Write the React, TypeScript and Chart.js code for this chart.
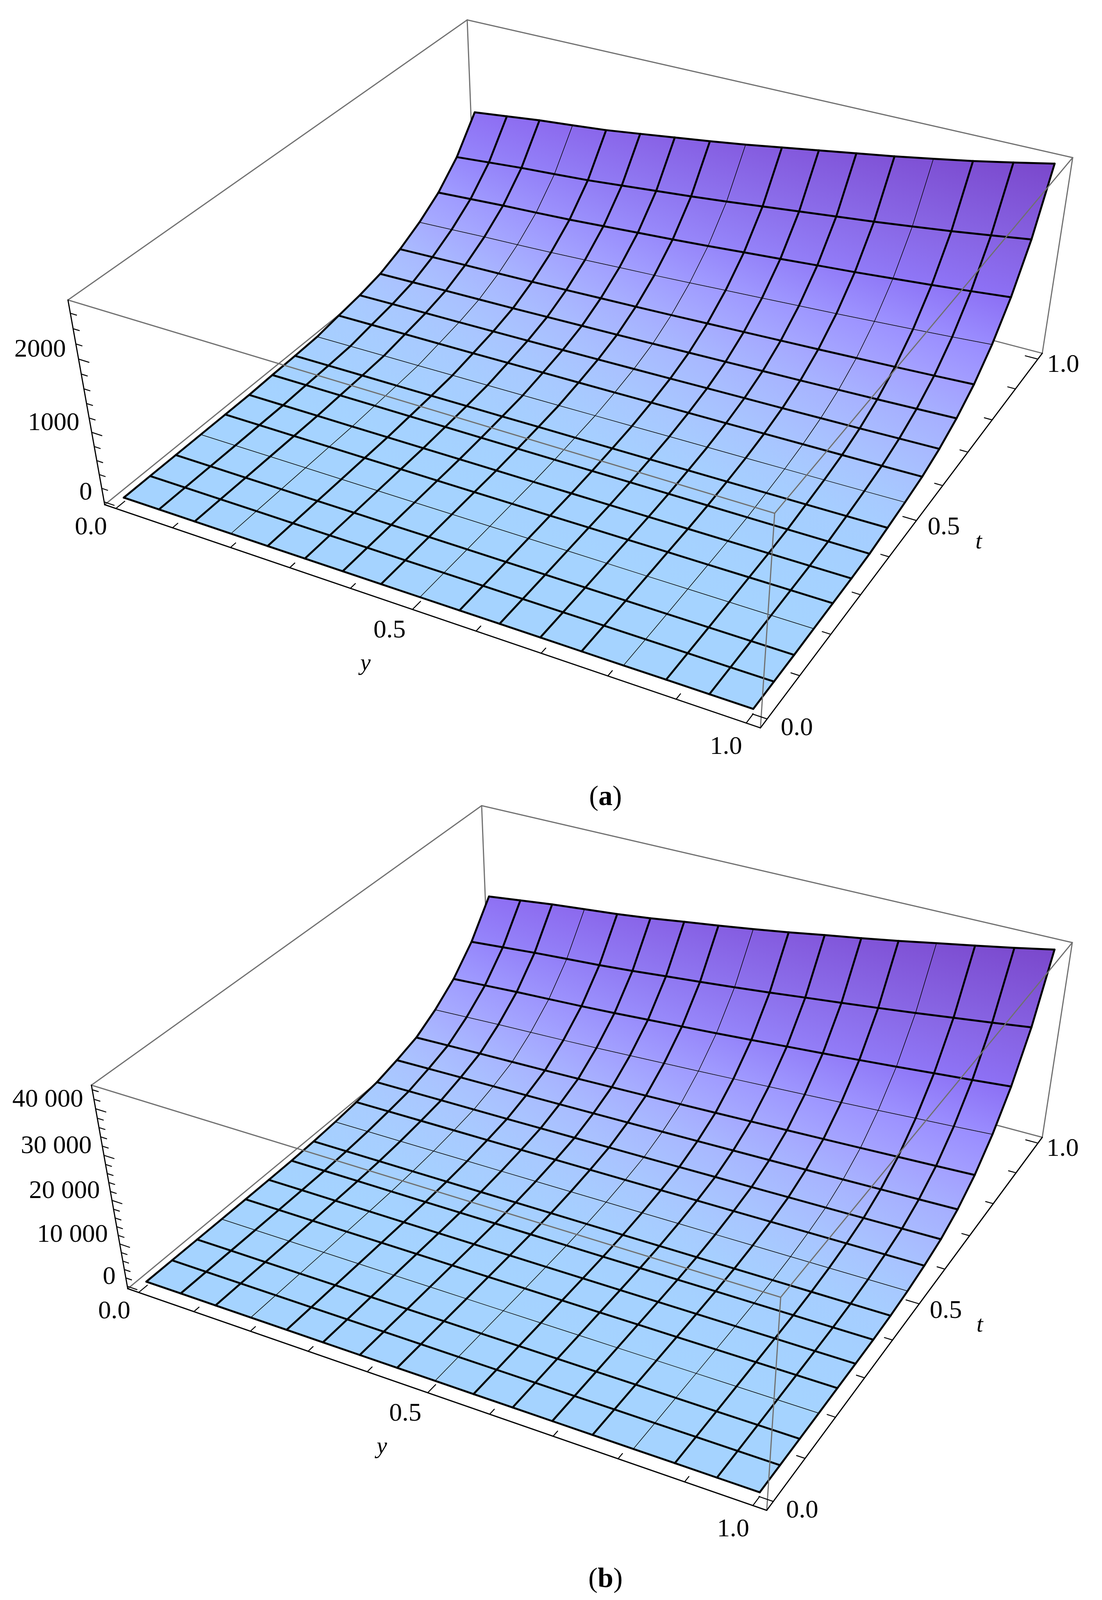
import { useEffect, useRef } from 'react'
import { Chart, registerables } from 'chart.js'

Chart.register(...registerables)

// mesh positions, same along y and along t
const meshSteps = [0, 0.0625, 0.125, 0.1875, 0.25, 0.3125, 0.375, 0.4375, 0.5, 0.5625, 0.625, 0.6875, 0.75, 0.8125, 0.875, 0.9375, 1]
const thinMeshLines = [3, 8, 13]

const yTicks = [0, 0.1, 0.2, 0.3, 0.4, 0.5, 0.6, 0.7, 0.8, 0.9, 1]
const tTicks = [0, 0.1, 0.2, 0.3, 0.4, 0.5, 0.6, 0.7, 0.8, 0.9, 1]
const majorTicks = [0, 0.5, 1]
const unitLabels = ['0.0', '0.5', '1.0']

// surface height, one row per t mesh line, one value per y mesh line
const surfaceA = [
	[17, 18, 19, 19, 20, 21, 22, 23, 24, 25, 27, 28, 29, 30, 32, 33, 35],
	[19, 20, 21, 22, 22, 23, 24, 25, 27, 28, 29, 30, 32, 33, 35, 36, 38],
	[20, 21, 22, 23, 24, 25, 26, 28, 29, 30, 32, 33, 35, 36, 38, 40, 42],
	[21, 22, 24, 25, 26, 28, 29, 31, 33, 35, 37, 39, 40, 43, 45, 47, 50],
	[23, 25, 26, 28, 29, 31, 33, 35, 37, 39, 42, 44, 47, 49, 52, 55, 58],
	[25, 27, 29, 30, 32, 34, 37, 39, 41, 44, 47, 50, 53, 56, 59, 62, 66],
	[39, 41, 43, 45, 47, 49, 51, 54, 56, 59, 62, 65, 68, 71, 74, 78, 82],
	[49, 53, 56, 59, 62, 66, 70, 75, 79, 84, 89, 94, 99, 105, 111, 117, 124],
	[64, 69, 74, 78, 83, 88, 94, 100, 107, 114, 121, 128, 135, 143, 151, 160, 170],
	[117, 122, 127, 131, 136, 142, 148, 154, 160, 168, 175, 182, 190, 198, 206, 215, 225],
	[164, 172, 179, 185, 192, 200, 209, 218, 228, 238, 249, 260, 270, 282, 294, 308, 322],
	[235, 246, 257, 266, 275, 288, 301, 314, 328, 344, 359, 375, 390, 408, 425, 445, 466],
	[362, 377, 392, 403, 416, 432, 450, 466, 485, 506, 526, 547, 568, 591, 614, 640, 668],
	[530, 551, 572, 588, 606, 629, 654, 677, 704, 733, 762, 791, 820, 853, 886, 923, 962],
	[747, 777, 807, 830, 856, 890, 925, 959, 997, 1039, 1080, 1123, 1164, 1211, 1259, 1312, 1368],
	[1059, 1101, 1143, 1175, 1210, 1258, 1306, 1354, 1407, 1466, 1524, 1582, 1640, 1705, 1772, 1846, 1924],
	[1515, 1573, 1632, 1677, 1726, 1792, 1860, 1927, 2000, 2082, 2163, 2245, 2326, 2416, 2509, 2613, 2722]
]

const surfaceB = [
	[350, 355, 360, 364, 368, 373, 379, 385, 391, 397, 404, 411, 418, 426, 434, 442, 450],
	[340, 347, 354, 360, 365, 372, 380, 388, 397, 406, 416, 425, 435, 446, 457, 468, 480],
	[330, 339, 348, 355, 362, 371, 382, 392, 403, 415, 427, 439, 452, 466, 480, 495, 510],
	[320, 331, 342, 351, 360, 371, 383, 396, 409, 423, 439, 454, 470, 486, 504, 521, 540],
	[320, 334, 347, 358, 369, 382, 398, 413, 429, 447, 466, 484, 504, 524, 545, 567, 590],
	[340, 356, 371, 383, 396, 411, 429, 447, 466, 486, 507, 528, 551, 574, 599, 624, 650],
	[400, 418, 436, 450, 465, 483, 504, 524, 546, 569, 594, 619, 645, 672, 701, 729, 760],
	[620, 641, 661, 677, 694, 714, 738, 761, 786, 813, 841, 869, 899, 930, 962, 995, 1030],
	[970, 1001, 1031, 1055, 1080, 1110, 1146, 1180, 1217, 1257, 1299, 1341, 1385, 1431, 1479, 1528, 1580],
	[1510, 1557, 1604, 1642, 1679, 1726, 1781, 1834, 1891, 1952, 2018, 2082, 2149, 2220, 2295, 2370, 2450],
	[2180, 2256, 2332, 2393, 2454, 2530, 2618, 2704, 2796, 2894, 3001, 3104, 3214, 3328, 3449, 3571, 3700],
	[3500, 3621, 3742, 3839, 3936, 4057, 4197, 4335, 4480, 4637, 4807, 4971, 5146, 5327, 5521, 5714, 5920],
	[5080, 5293, 5505, 5675, 5845, 6058, 6304, 6546, 6801, 7078, 7375, 7664, 7970, 8289, 8629, 8969, 9330],
	[8040, 8355, 8670, 8922, 9174, 9489, 9854, 10214, 10592, 11001, 11442, 11870, 12324, 12797, 13301, 13805, 14340],
	[11880, 12342, 12803, 13172, 13541, 14003, 14538, 15064, 15618, 16218, 16864, 17492, 18156, 18849, 19587, 20325, 21110],
	[17360, 18018, 18675, 19201, 19727, 20385, 21147, 21897, 22686, 23541, 24461, 25355, 26302, 27288, 28340, 29392, 30510],
	[24930, 25880, 26830, 27600, 28360, 29300, 30430, 31500, 32640, 33870, 35210, 36500, 37870, 39350, 40810, 42340, 43960]
]

const zTicksA = [0, 200, 400, 600, 800, 1000, 1200, 1400, 1600, 1800, 2000, 2200, 2400, 2600]
const zMajorA = [0, 1000, 2000]
const zLabelsA = ['0', '1000', '2000']

const zTicksB = [0, 2000, 4000, 6000, 8000, 10000, 12000, 14000, 16000, 18000, 20000, 22000, 24000, 26000, 28000, 30000, 32000, 34000, 36000, 38000, 40000, 42000, 44000]
const zMajorB = [0, 10000, 20000, 30000, 40000]
const zLabelsB = ['0', '10 000', '20 000', '30 000', '40 000']

// surface colour at each t mesh line, on the y=0 side and the y=1 side
const shadeLeft = ['#a5d3ff', '#a5d3ff', '#a5d3ff', '#a5d3ff', '#a5d3ff', '#a5d3ff', '#a5d2ff', '#a6d0ff', '#a7ceff', '#a8ccff', '#a9c8ff', '#aac3ff', '#a9baff', '#a6abff', '#a09cff', '#9686fc', '#8f70f4']
const shadeRight = ['#a5d3ff', '#a5d3ff', '#a5d3ff', '#a5d3ff', '#a5d2ff', '#a5d1ff', '#a5cfff', '#a6ceff', '#a7c9ff', '#a8c2ff', '#a8b8ff', '#a6aeff', '#a39eff', '#9a8cff', '#8c70f5', '#8560e0', '#7a48cc']

// camera of each panel: homogeneous [const, y, t, z] rows for x, y and w
type Camera = number[][]
const cameraA: Camera = [
	[288.1, 1562.8, 1294.9, -114.1],
	[1388.9, 382.8, -705.4, -620.9],
	[1.075, -0.12417, 0.22822, -0.075]
]
const cameraB: Camera = [
	[351.9, 1516.8, 1280.3, -117.9],
	[1397.7, 379.3, -701.2, -619.7],
	[1.076, -0.12393, 0.22818, -0.076]
]

const GREY = '#707070'
const INK = '#000000'
const FONT = '"Liberation Serif", serif'

// Mathematica pads the plot range by 2% on each side
const pad = (v: number) => (v + 0.02) / 1.04

const project = (cam: Camera, by: number, bt: number, bz: number) => {
	const row = (r: number[]) => r[0] + r[1] * by + r[2] * bt + r[3] * bz
	const w = row(cam[2])
	return { x: row(cam[0]) / w, y: row(cam[1]) / w }
}

const hexRgb = (hex: string) => [1, 3, 5].map((i) => parseInt(hex.slice(i, i + 2), 16))

const mixShade = (row: number, f: number) => {
	const a = hexRgb(shadeLeft[row])
	const b = hexRgb(shadeRight[row])
	return `rgb(${a.map((v, i) => Math.round(v + (b[i] - v) * f)).join(',')})`
}

const lineSet = (data: { x: number; y: number }[], color: string, width: number) => ({
	data,
	showLine: true,
	fill: false,
	borderColor: color,
	borderWidth: width,
	borderCapStyle: 'round' as const,
	borderJoinStyle: 'round' as const,
	pointRadius: 0,
	tension: 0
})

type Corner = [number, number, number]
const backEdges: Corner[][] = [
	[[0, 0, 0], [0, 1, 0]],
	[[0, 1, 0], [1, 1, 0]],
	[[0, 1, 0], [0, 1, 1]],
	[[1, 1, 0], [1, 1, 1]],
	[[0, 0, 1], [0, 1, 1]],
	[[0, 1, 1], [1, 1, 1]]
]
const frontEdges: Corner[][] = [
	[[0, 0, 1], [1, 0, 1]],
	[[1, 0, 1], [1, 1, 1]],
	[[1, 0, 0], [1, 0, 1]]
]
const axisEdges: Corner[][] = [
	[[0, 0, 0], [1, 0, 0]],
	[[1, 0, 0], [1, 1, 0]],
	[[0, 0, 0], [0, 0, 1]]
]

type PanelProps = {
	top: number
	height: number
	surface: number[][]
	camera: Camera
	zMin: number
	zMax: number
	zTicks: number[]
	zMajor: number[]
	zLabels: string[]
}

function SurfacePanel({ top, height, surface, camera, zMin, zMax, zTicks, zMajor, zLabels }: PanelProps) {
	const canvasRef = useRef<HTMLCanvasElement | null>(null)

	useEffect(() => {
		if (!canvasRef.current) return
		const boxZ = (z: number) => (z - zMin) / (zMax - zMin)
		const at = (i: number, j: number) => project(camera, pad(meshSteps[j]), pad(meshSteps[i]), boxZ(surface[i][j]))
		const edgeSet = (edge: Corner[], color: string) => lineSet(edge.map((c) => project(camera, c[0], c[1], c[2])), color, 3)

		const sets: any[] = []
		backEdges.forEach((e) => sets.push(edgeSet(e, GREY)))

		// cells, back rows first
		for (let i = surface.length - 2; i >= 0; i--) {
			for (let j = 0; j < meshSteps.length - 1; j++) {
				const f = (j + 0.5) / (meshSteps.length - 1)
				const from = project(camera, pad((meshSteps[j] + meshSteps[j + 1]) / 2), pad(meshSteps[i]), boxZ((surface[i][j] + surface[i][j + 1]) / 2))
				const to = project(camera, pad((meshSteps[j] + meshSteps[j + 1]) / 2), pad(meshSteps[i + 1]), boxZ((surface[i + 1][j] + surface[i + 1][j + 1]) / 2))
				sets.push({
					data: [at(i, j), at(i, j + 1), at(i + 1, j + 1), at(i + 1, j), at(i, j)],
					showLine: true,
					fill: 'shape',
					borderWidth: 1,
					pointRadius: 0,
					tension: 0,
					borderColor: mixShade(i, f),
					// the scales run 0..width and 0..height, so one unit is one canvas pixel
					backgroundColor: (c: any) => {
						const g = c.chart.ctx.createLinearGradient(from.x, from.y, to.x, to.y)
						g.addColorStop(0, mixShade(i, f))
						g.addColorStop(1, mixShade(i + 1, f))
						return g
					}
				})
			}
		}

		// mesh lines
		meshSteps.forEach((_, i) => {
			const thin = thinMeshLines.includes(i)
			sets.push(lineSet(meshSteps.map((__, j) => at(i, j)), INK, thin ? 1.5 : 5))
			sets.push(lineSet(meshSteps.map((__, j) => at(j, i)), INK, thin ? 1.5 : 5))
		})

		frontEdges.forEach((e) => sets.push(edgeSet(e, GREY)))
		axisEdges.forEach((e) => sets.push(edgeSet(e, INK)))

		// ticks point into the box
		yTicks.forEach((v) => {
			const len = majorTicks.includes(v) ? 0.02 : 0.012
			sets.push(lineSet([project(camera, pad(v), 0, 0), project(camera, pad(v), len, 0)], INK, 2.5))
		})
		tTicks.forEach((v) => {
			const len = majorTicks.includes(v) ? 0.02 : 0.012
			sets.push(lineSet([project(camera, 1, pad(v), 0), project(camera, 1 - len, pad(v), 0)], INK, 2.5))
		})
		zTicks.forEach((v) => {
			const len = zMajor.includes(v) ? 0.017 : 0.01
			sets.push(lineSet([project(camera, 0, 0, boxZ(v)), project(camera, len, 0, boxZ(v))], INK, 2.5))
		})

		const texts = [
			...majorTicks.map((v, i) => ({ text: unitLabels[i], at: project(camera, pad(v), -0.05, 0), align: 'center', dx: -6, dy: 2, font: `66px ${FONT}` })),
			...majorTicks.map((v, i) => ({ text: unitLabels[i], at: project(camera, 1.04, pad(v), 0), align: 'center', dx: 0, dy: -2, font: `66px ${FONT}` })),
			...zMajor.map((v, i) => ({ text: zLabels[i], at: project(camera, -0.0208, 0, boxZ(v)), align: 'right', dx: 0, dy: -13, font: `66px ${FONT}` })),
			{ text: 'y', at: project(camera, pad(0.5), -0.12, 0), align: 'center', dx: 8, dy: 10, font: `italic 60px ${FONT}` },
			{ text: 't', at: project(camera, 1.095, pad(0.5), 0), align: 'center', dx: -8, dy: 6, font: `italic 60px ${FONT}` }
		]

		const axisText = {
			id: 'axisText',
			afterDatasetsDraw(chart: Chart) {
				const { ctx, scales } = chart
				ctx.save()
				ctx.fillStyle = INK
				ctx.textBaseline = 'middle'
				texts.forEach((t) => {
					ctx.font = t.font
					ctx.textAlign = t.align as CanvasTextAlign
					ctx.fillText(t.text, scales.x.getPixelForValue(t.at.x) + t.dx, scales.y.getPixelForValue(t.at.y) + t.dy)
				})
				ctx.restore()
			}
		}

		const chart = new Chart(canvasRef.current, {
			type: 'scatter',
			// Chart.js paints the first dataset last
			data: { datasets: sets.reverse() },
			options: {
				animation: false,
				responsive: false,
				devicePixelRatio: 1,
				events: [],
				layout: { padding: 0 },
				scales: {
					x: { type: 'linear', display: false, min: 0, max: 2821 },
					y: { type: 'linear', display: false, min: 0, max: height, reverse: true }
				},
				plugins: { legend: { display: false }, tooltip: { enabled: false } }
			},
			plugins: [axisText]
		})
		return () => chart.destroy()
	}, [height, surface, camera, zMin, zMax, zTicks, zMajor, zLabels])

	return (
		<canvas
			ref={canvasRef}
			width={2821}
			height={height}
			style={{ position: 'absolute', left: 0, top, display: 'block' }}
		/>
	)
}

const captionStyle = (top: number) =>
	({
		position: 'absolute',
		left: 1550,
		top,
		transform: 'translate(-50%, -50%)',
		font: `72px ${FONT}`,
		lineHeight: 1,
		color: '#000'
	}) as const

export default function App() {
	return (
		<div style={{ position: 'absolute', left: 0, top: 0, width: 2821, height: 4104, background: '#fff', overflow: 'hidden' }}>
			<SurfacePanel top={0} height={2000} surface={surfaceA} camera={cameraA} zMin={-40} zMax={2770} zTicks={zTicksA} zMajor={zMajorA} zLabels={zLabelsA} />
			<SurfacePanel top={2000} height={2104} surface={surfaceB} camera={cameraB} zMin={-570} zMax={44950} zTicks={zTicksB} zMajor={zMajorB} zLabels={zLabelsB} />
			<div style={captionStyle(2037)}>(<b>a</b>)</div>
			<div style={captionStyle(4039)}>(<b>b</b>)</div>
		</div>
	)
}
